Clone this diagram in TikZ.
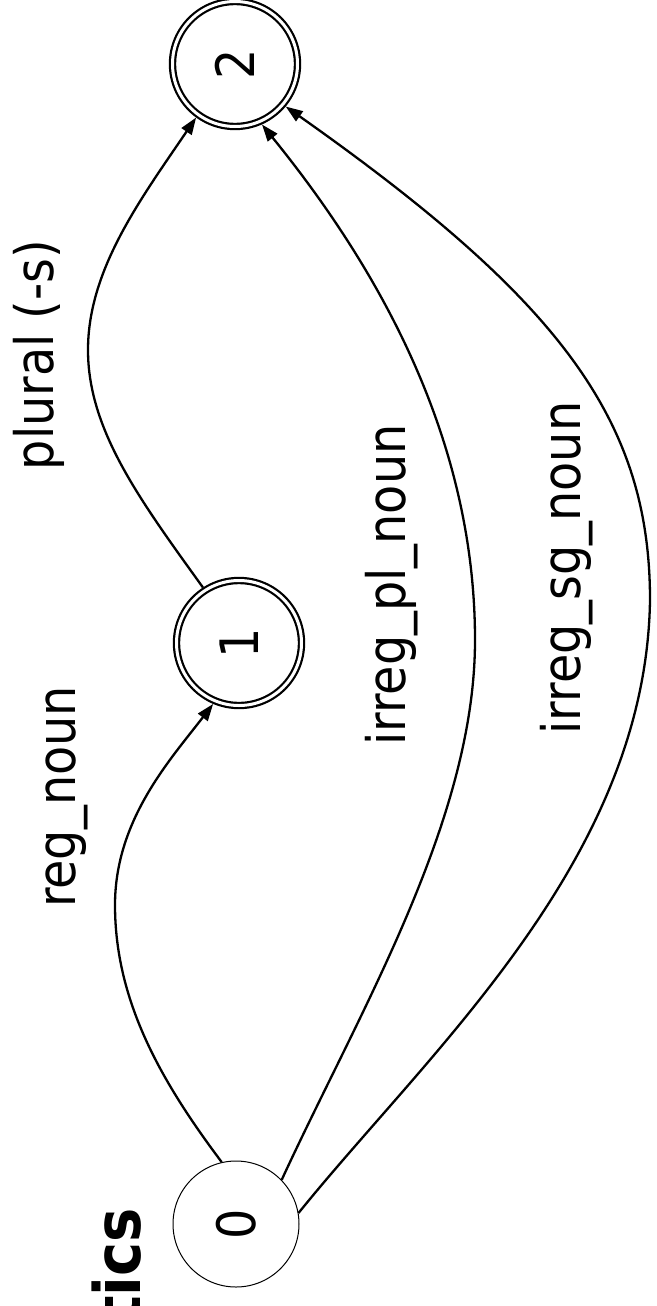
\documentclass[tikz,border=0pt]{standalone}
\usepackage{fontspec}
\setmainfont{DejaVu Sans Condensed}
\newfontfamily\boldcond{DejaVu Sans Condensed Bold}
\usetikzlibrary{arrows.meta}
\begin{document}
\begin{tikzpicture}[x=1pt,y=-1pt,
  statenode/.style={circle,draw,line width=1pt,minimum size=126pt,inner sep=0pt,outer sep=0.5pt,font=\fontsize{53}{60}\selectfont},
  accnode/.style={circle,draw,line width=2.2pt,double,double distance=3pt,minimum size=125pt,inner sep=0pt,outer sep=3.7pt,font=\fontsize{53}{60}\selectfont},
  edge/.style={line width=2.3pt,-{Triangle[length=17pt,width=12pt]}},
  lbl/.style={rotate=90,anchor=base,inner sep=0pt,font=\fontsize{53}{60}\selectfont}]
\useasboundingbox[fill=white] (0,0) rectangle (656,1306);
\node[statenode] (n0) at (236,1224) {\rotatebox{90}{0}};
\node[accnode] (n1) at (239,643) {\rotatebox{90}{1}};
\node[accnode] (n2) at (235,64) {\rotatebox{90}{2}};
\draw[edge] (n0.103) .. controls (160,1080) and (115,1000) .. (115,905) .. controls (115,820) and (170,760) .. (n1.247);
\draw[edge] (n1.123) .. controls (140,500) and (88,430) .. (88,350) .. controls (88,270) and (140,200) .. (n2.234);
\draw[edge] (n0.44) .. controls (360,1010) and (475,820) .. (475,640) .. controls (475,440) and (380,270) .. (n2.294);
\draw[edge] (n0.10) .. controls (430,1050) and (646,860) .. (650,600) .. controls (650,420) and (560,300) .. (n2.320);
\node[lbl] (l1) at (75,797) {reg\_noun};
\node[lbl] (l2) at (53,355) {plural (-s)};
\node[lbl] (l3) at (405,585) {irreg\_pl\_noun};
\node[lbl] (l4) at (580,568) {irreg\_sg\_noun};
\node[rotate=90,anchor=base east,inner sep=0pt,font=\boldcond\fontsize{64}{70}\selectfont] (t) at (140,1208) {tics};
\end{tikzpicture}
\end{document}
